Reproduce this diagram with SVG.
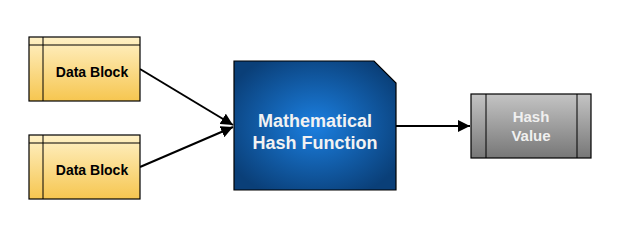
<svg xmlns="http://www.w3.org/2000/svg" width="628" height="245" viewBox="0 0 628 245">
<style>
.blk{stroke:#000;stroke-width:1.2}
.ln{stroke:#000;stroke-width:1}
.conn{stroke:#000;stroke-width:2;fill:none;marker-end:url(#arr)}
text{font-family:"Liberation Sans",Arial,sans-serif;font-weight:bold;text-anchor:middle}
.dt{font-size:14px;fill:#000}
.ht{font-size:18px;fill:#f2f2f2}
.vt{font-size:15px;fill:#f0f0f0}
</style>
<defs>
<linearGradient id="yel" x1="0" y1="0" x2="0" y2="1">
<stop offset="0" stop-color="#fff1c6"/>
<stop offset="1" stop-color="#f6c650"/>
</linearGradient>
<radialGradient id="blu" cx="0.5" cy="0.5" r="0.6">
<stop offset="0" stop-color="#1b7fe0"/>
<stop offset="1" stop-color="#0a3f78"/>
</radialGradient>
<linearGradient id="gry" x1="0" y1="0" x2="0" y2="1">
<stop offset="0" stop-color="#c4c4c4"/>
<stop offset="1" stop-color="#777"/>
</linearGradient>
<marker id="arr" viewBox="0 0 10 10" refX="10" refY="5" markerWidth="6" markerHeight="6" markerUnits="strokeWidth" orient="auto">
<path d="M0,0 L10,5 L0,10 Z" fill="#000"/>
</marker>
</defs>
<g id="connectors">
<line class="conn" x1="140" y1="69" x2="233" y2="125"/>
<line class="conn" x1="140" y1="167" x2="233" y2="127"/>
<line class="conn" x1="396" y1="126" x2="470" y2="126"/>
</g>
<g id="data1">
<rect class="blk" x="29" y="37" width="111" height="64" fill="url(#yel)"/>
<line class="ln" x1="43" y1="37" x2="43" y2="101"/>
<line class="ln" x1="29" y1="45" x2="140" y2="45"/>
<text class="dt" x="92" y="77">Data Block</text>
</g>
<g id="data2">
<rect class="blk" x="29" y="135" width="111" height="64" fill="url(#yel)"/>
<line class="ln" x1="43" y1="135" x2="43" y2="199"/>
<line class="ln" x1="29" y1="143" x2="140" y2="143"/>
<text class="dt" x="92" y="175">Data Block</text>
</g>
<g id="hashfn">
<path class="blk" d="M234,61 L374,61 L396,83 L396,190 L234,190 Z" fill="url(#blu)"/>
<text class="ht" x="315" y="127">Mathematical</text>
<text class="ht" x="315" y="149">Hash Function</text>
</g>
<g id="hashval">
<rect class="blk" x="471" y="94" width="120" height="64" fill="url(#gry)"/>
<line class="ln" x1="486" y1="94" x2="486" y2="158"/>
<line class="ln" x1="577" y1="94" x2="577" y2="158"/>
<text class="vt" x="531" y="122">Hash</text>
<text class="vt" x="531" y="141">Value</text>
</g>
</svg>
